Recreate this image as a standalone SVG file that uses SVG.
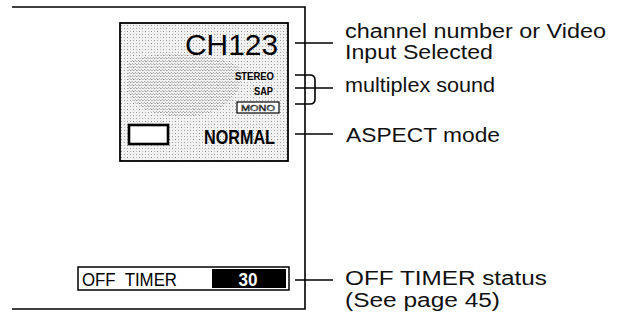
<svg xmlns="http://www.w3.org/2000/svg" width="617" height="321" viewBox="0 0 617 321">
<style>
.ln{stroke:#000;stroke-width:1.6;fill:none}
.lbl{font-family:"Liberation Sans",Arial,sans-serif;font-size:19.5px;fill:#111}
.osd{font-family:"Liberation Sans",Arial,sans-serif;fill:#000}
.b{font-weight:bold}
</style>
<defs>
<pattern id="stip" width="6" height="6" patternUnits="userSpaceOnUse">
<rect width="6" height="6" fill="#f2f2f2"/>
<rect x="1" y="1" width="1" height="1" fill="#8a8a8a"/>
<rect x="4" y="4" width="1" height="1" fill="#999"/>
<rect x="4" y="1" width="1" height="1" fill="#c0c0c0"/>
<rect x="1" y="4" width="1" height="1" fill="#b5b5b5"/>
</pattern>
<pattern id="stip2" width="3" height="3" patternUnits="userSpaceOnUse">
<rect x="0" y="0" width="1" height="1" fill="#777"/>
<rect x="2" y="1" width="1" height="1" fill="#999"/>
</pattern>
</defs>
<rect width="617" height="321" fill="#fff"/>
<g id="frame">
<path class="ln" d="M12 7 H305 V309 H12"/>
</g>
<g id="screen">
<rect x="120" y="23" width="168" height="138" fill="url(#stip)" stroke="#000" stroke-width="1.8"/>
<path d="M128 62 C150 50 220 52 240 68 C246 90 228 114 190 116 C158 118 132 108 128 90 Z" fill="url(#stip2)" opacity="0.6"/>
<text class="osd" x="278" y="55" font-size="29" text-anchor="end" textLength="93" lengthAdjust="spacingAndGlyphs">CH123</text>
<text class="osd b" x="274" y="80" font-size="10" text-anchor="end" textLength="39" lengthAdjust="spacingAndGlyphs">STEREO</text>
<text class="osd b" x="273" y="95" font-size="10" text-anchor="end" textLength="19" lengthAdjust="spacingAndGlyphs">SAP</text>
<rect x="237" y="102" width="42" height="11" fill="#fff" stroke="#000" stroke-width="1.2"/>
<text x="258" y="111" font-family="Liberation Sans,Arial,sans-serif" font-size="9" text-anchor="middle" fill="#fff" stroke="#000" stroke-width="0.5" textLength="34" lengthAdjust="spacingAndGlyphs">MONO</text>
<rect x="129" y="125" width="39" height="19" fill="#fff" stroke="#000" stroke-width="2.6"/>
<text class="osd b" x="204" y="144" font-size="20" textLength="71" lengthAdjust="spacingAndGlyphs">NORMAL</text>
</g>
<g id="timer">
<rect x="78" y="267" width="211" height="23" fill="#fff" stroke="#000" stroke-width="1.5"/>
<rect x="212" y="269" width="74" height="19" fill="#000"/>
<text x="82" y="286" font-family="Liberation Sans,Arial,sans-serif" font-size="18" fill="#000" textLength="95" lengthAdjust="spacingAndGlyphs" xml:space="preserve">OFF  TIMER</text>
<text x="248" y="286" font-family="Liberation Sans,Arial,sans-serif" font-size="18" font-weight="bold" fill="#fff" text-anchor="middle" textLength="19" lengthAdjust="spacingAndGlyphs">30</text>
</g>
<g id="connectors">
<path class="ln" d="M295 43 H333"/>
<path class="ln" d="M295 75 H310 Q315 75 315 80 V99 Q315 104 310 104 H295"/>
<path class="ln" d="M295 88 H333"/>
<path class="ln" d="M295 134 H333"/>
<path class="ln" d="M295 280 H333"/>
</g>
<g id="labels">
<text class="lbl" x="345" y="38" textLength="261" lengthAdjust="spacingAndGlyphs">channel number or Video</text>
<text class="lbl" x="345" y="59" textLength="148" lengthAdjust="spacingAndGlyphs">Input Selected</text>
<text class="lbl" x="345" y="92" textLength="150" lengthAdjust="spacingAndGlyphs">multiplex sound</text>
<text class="lbl" x="346" y="142" textLength="154" lengthAdjust="spacingAndGlyphs">ASPECT mode</text>
<text class="lbl" x="345" y="285" textLength="202" lengthAdjust="spacingAndGlyphs">OFF TIMER status</text>
<text class="lbl" x="345" y="307" textLength="155" lengthAdjust="spacingAndGlyphs">(See page 45)</text>
</g>
</svg>
